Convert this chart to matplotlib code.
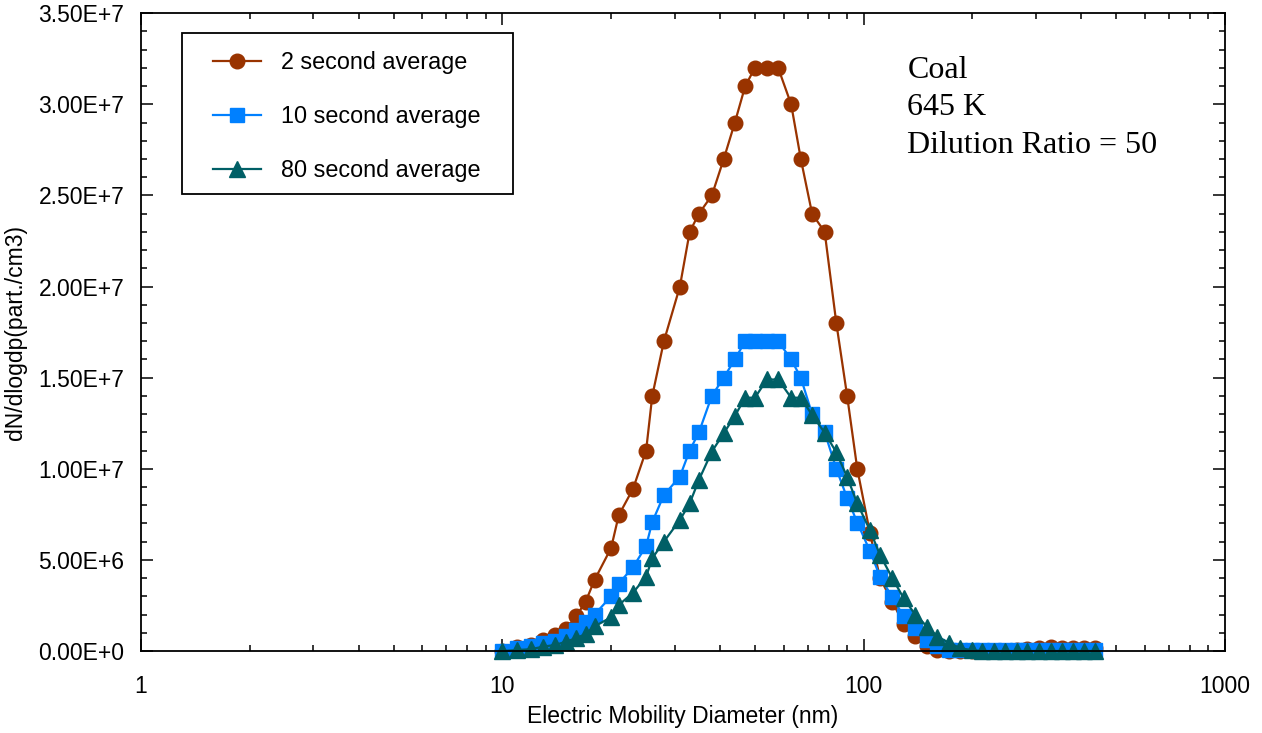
import matplotlib
matplotlib.use("Agg")
import matplotlib.pyplot as plt
from matplotlib.patches import Rectangle
from matplotlib.ticker import FixedLocator, FuncFormatter, MultipleLocator, LogLocator, NullFormatter

# electric mobility diameter channels (nm)
diameter = [10, 11, 12, 13, 14, 15, 16, 17, 18, 20, 21, 23, 25, 26, 28, 31, 33, 35,
            38, 41, 44, 47, 50, 54, 58, 63, 67, 72, 78, 84, 90, 96, 104, 111, 120,
            129, 139, 150, 160, 172, 185, 199, 213, 229, 246, 265, 284, 306, 329,
            353, 380, 408, 438]

# dN/dlogdp in units of 1e6 part./cm3
avg_2s = [0.0, 0.2, 0.35, 0.6, 0.85, 1.2, 1.9, 2.7, 3.9, 5.65, 7.45, 8.9, 11.0, 14.0,
          17.0, 20.0, 23.0, 24.0, 25.0, 27.0, 29.0, 31.0, 32.0, 32.0, 32.0, 30.0,
          27.0, 24.0, 23.0, 18.0, 14.0, 10.0, 6.5, 4.0, 2.7, 1.5, 0.8, 0.3, 0.08,
          0.02, 0.0, 0.0, 0.0, 0.0, 0.02, 0.05, 0.12, 0.17, 0.2, 0.18, 0.18, 0.17,
          0.15]
avg_10s = [0.0, 0.15, 0.27, 0.42, 0.57, 0.82, 1.15, 1.6, 2.0, 3.0, 3.7, 4.6, 5.76,
           7.08, 8.56, 9.57, 11.0, 12.0, 14.0, 15.0, 16.0, 17.0, 17.0, 17.0, 17.0,
           16.0, 15.0, 13.0, 12.0, 10.0, 8.4, 7.05, 5.5, 4.08, 2.95, 1.9, 1.25, 0.6,
           0.28, 0.08, 0.05, 0.05, 0.05, 0.05, 0.06, 0.06, 0.06, 0.07, 0.07, 0.07,
           0.07, 0.07, 0.07]
avg_80s = [0.0, 0.05, 0.1, 0.24, 0.33, 0.51, 0.7, 0.93, 1.35, 1.85, 2.52, 3.2, 4.08,
           5.09, 6.0, 7.19, 8.1, 9.39, 10.94, 11.95, 12.9, 13.9, 13.9, 14.9, 14.9,
           13.9, 13.9, 12.95, 11.98, 10.9, 9.55, 8.1, 6.64, 5.27, 4.0, 2.9, 1.98,
           1.33, 0.78, 0.46, 0.15, 0.05, 0.0, 0.0, 0.0, 0.0, 0.0, 0.0, 0.0, 0.0,
           0.0, 0.0, 0.0]

series = [
    ("2 second average", avg_2s, "#993300", "o", 10.5),
    ("10 second average", avg_10s, "#0080ff", "s", 10.5),
    ("80 second average", avg_80s, "#005f66", "^", 12),
]

plt.rcParams["font.family"] = ["Liberation Sans", "DejaVu Sans"]

fig = plt.figure(figsize=(12.62, 7.33), dpi=100)
ax = fig.add_axes([0.1117, 0.1119, 0.8590, 0.8700])

for label, vals, color, marker, ms in series:
    ax.plot(diameter, [v * 1e6 for v in vals], color=color, lw=1.6, marker=marker,
            ms=ms, mec=color, mfc=color, label=label, clip_on=False)

ax.set_xscale("log")
ax.set_xlim(1, 1000)
ax.set_ylim(0, 3.5e7)

ax.xaxis.set_major_locator(FixedLocator([1, 10, 100, 1000]))
ax.xaxis.set_major_formatter(FuncFormatter(lambda v, p: f"{v:g}"))
ax.xaxis.set_minor_locator(LogLocator(base=10, subs=range(2, 10)))
ax.xaxis.set_minor_formatter(NullFormatter())
ax.yaxis.set_major_locator(MultipleLocator(5e6))
ax.yaxis.set_minor_locator(MultipleLocator(1e6))


def sci_fmt(v, pos):
    if v == 0:
        return "0.00E+0"
    e = len(str(int(round(v)))) - 1
    return f"{v / 10 ** e:.2f}E+{e}"


ax.yaxis.set_major_formatter(FuncFormatter(sci_fmt))

ax.tick_params(which="both", direction="in", top=True, right=True, width=1.1,
               labelsize=16.5)
ax.tick_params(which="major", length=8.5)
ax.tick_params(which="minor", length=4.5)
ax.tick_params(axis="x", pad=17)
ax.tick_params(axis="y", pad=12)
for s in ax.spines.values():
    s.set_linewidth(1.3)

ax.set_xlabel("Electric Mobility Diameter (nm)", fontsize=16.5, labelpad=5)
ax.set_ylabel("dN/dlogdp(part./cm3)", fontsize=16.5, labelpad=8)

# legend entries without frame, plus a hand-placed box like the original
leg = ax.legend(loc="center left", bbox_to_anchor=(0.0664, 0.8374), fontsize=16.8,
                frameon=False, borderaxespad=0, borderpad=0, handlelength=2.05,
                handletextpad=0.85, labelspacing=1.33)
ax.add_patch(Rectangle((0.0378, 0.7166), 0.3054, 0.2525, transform=ax.transAxes,
                       fill=False, edgecolor="black", lw=1.3, zorder=4))

ax.text(0.707, 0.933, "Coal\n645 K\nDilution Ratio = 50", transform=ax.transAxes,
        family=["Liberation Serif", "DejaVu Serif"], fontsize=23, va="top",
        ha="left", linespacing=1.38)

fig.savefig("out.png", dpi=100)
